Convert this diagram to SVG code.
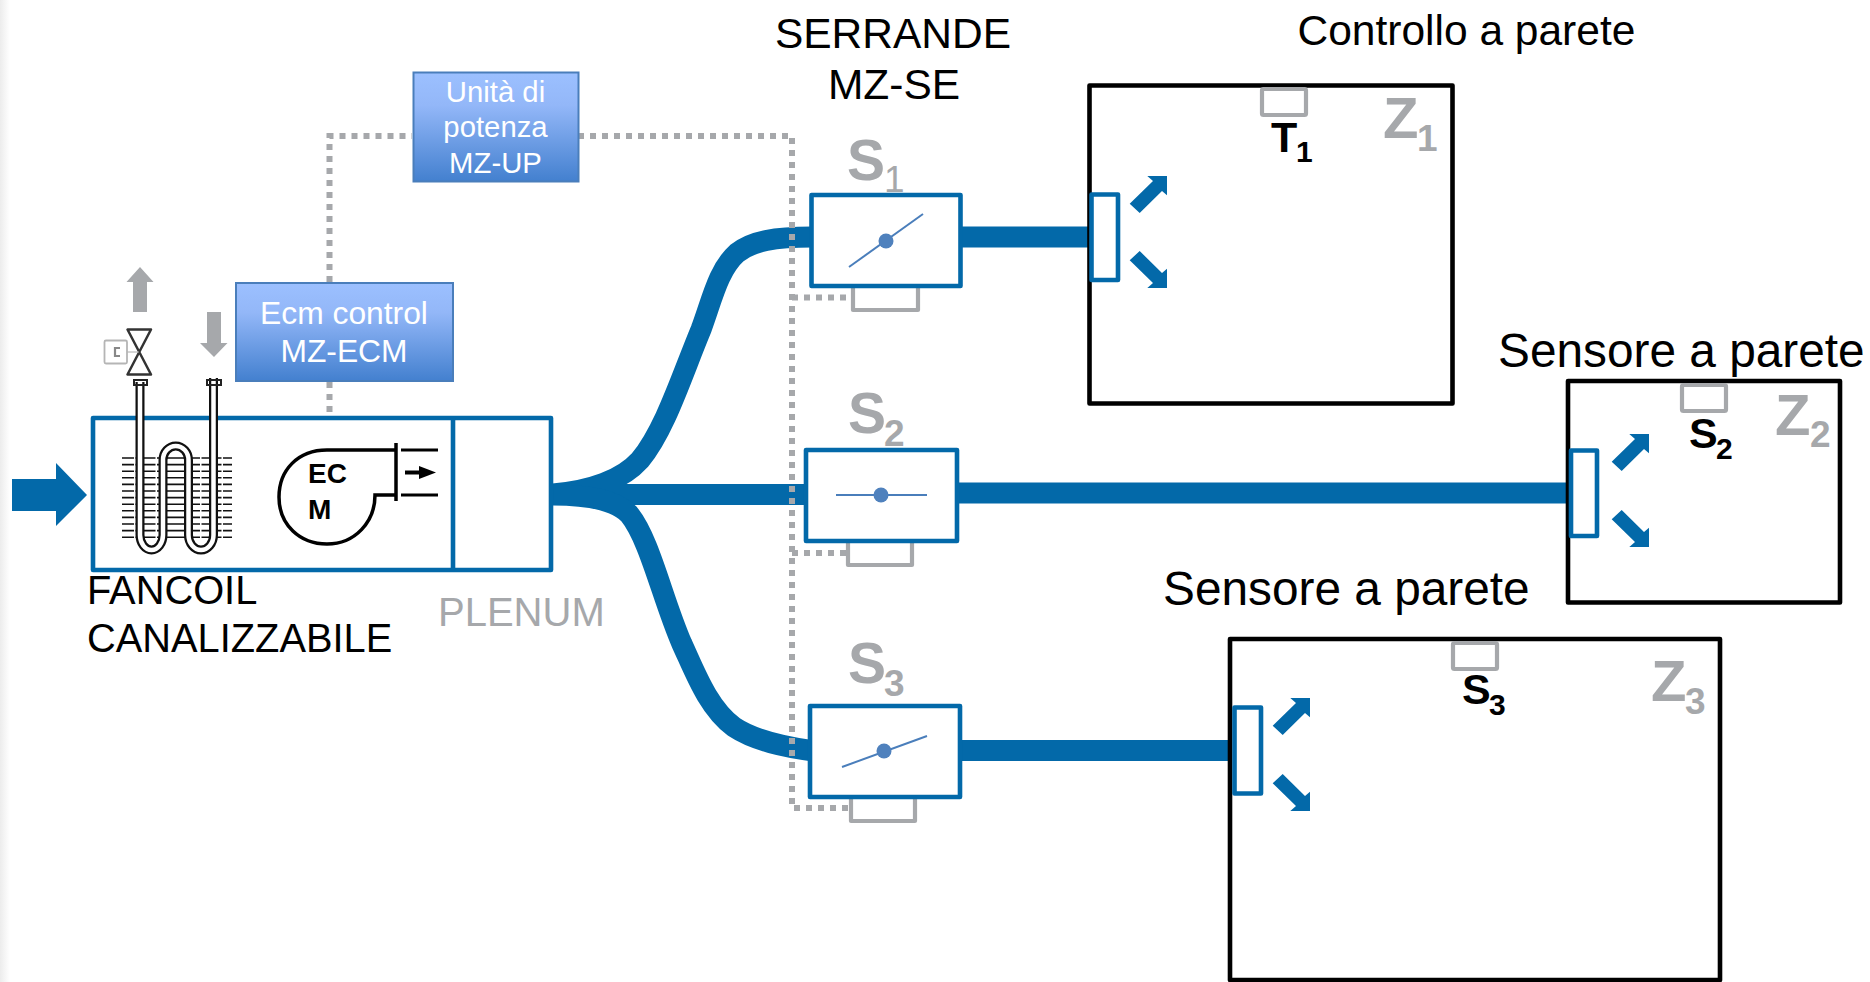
<svg xmlns="http://www.w3.org/2000/svg" width="1870" height="982" viewBox="0 0 1870 982">
<style>
text{font-family:"Liberation Sans",Arial,sans-serif}
.lbl{font-size:42.500px;fill:#000}
.fc{font-size:39.800px;fill:#000}
.par{font-size:47.800px;fill:#000}
.wh{fill:#fff;text-anchor:middle}
.gb{font-weight:bold;fill:#a6a8ab}
.kb{font-weight:bold;fill:#000}
.duct{fill:none;stroke:#0369a9;stroke-width:21}
.dot{fill:none;stroke:#a6a8ab;stroke-width:6;stroke-dasharray:6 6}
.box{fill:#fff;stroke:#0369a9;stroke-width:4.6;stroke-linejoin:round}
.zone{fill:#fff;stroke:#000;stroke-width:4.6;stroke-linejoin:round}
.sens{fill:#fff;stroke:#a6a8ab;stroke-width:4.2;stroke-linejoin:round}
.vane{stroke:#4a7ebb;stroke-width:2;fill:none}
.vd{fill:#4f81bd}
.ctl{fill:url(#btn);stroke:#4a7ebb;stroke-width:2}
.blk{fill:none;stroke:#000;stroke-width:3.500}
.fin{stroke:#111;stroke-width:1.6;stroke-dasharray:12 1.5 20 1.5 30 1}
</style>
<defs>
<linearGradient id="btn" x1="0" y1="0" x2="0" y2="1"><stop offset="0" stop-color="#9cc0ff"/><stop offset=".3" stop-color="#93b7f8"/><stop offset="1" stop-color="#4380cf"/></linearGradient>
<linearGradient id="edge" x1="0" y1="0" x2="1" y2="0"><stop offset="0" stop-color="#ececec"/><stop offset="1" stop-color="#fff"/></linearGradient>
<polygon id="outUp" fill="#0369a9" points="-37.3,27.7 -14,5 -19.7,0 0,0 0,19.3 -5,15 -27.3,37"/>
<polygon id="outDn" fill="#0369a9" points="-37.3,-27.7 -14,-5 -19.7,0 0,0 0,-19.3 -5,-15 -27.3,-37"/>
</defs>
<rect width="1870" height="982" fill="#fff"/>
<rect width="10" height="982" fill="url(#edge)"/>

<g id="connectors">
<path class="duct" d="M553 494 C590 491 622 480 640 460 C665 430 682 375 701 329.500 C712 300 718 270 737 253 C752 241 775 237 812 237"/>
<path class="duct" d="M551 494.500 H806"/>
<path class="duct" d="M553 495 C590 495 615 500 629 514 C650 540 662 598 682 644 C695 672 708 708 734 727 C755 741 785 747 814 751"/>
<path class="duct" d="M959 493 H1571"/>
<path class="duct" d="M962 750.500 H1234"/>
<path class="duct" d="M961 237 H1094"/>
<path class="dot" d="M329.500 282 V136 H412"/>
<path class="dot" d="M329.500 382 V450"/>
<path class="dot" d="M578 136 H792 V808 H848"/>
<path class="dot" d="M792 297.500 H853"/>
<path class="dot" d="M792 553 H848"/>
<polygon id="air-in" fill="#0369a9" points="12,479 56,479 56,463 87,495 56,526 56,511 12,511"/>
<polygon id="water-out" fill="#a6a8ab" points="140,267 153.500,282 147,282 147,312 133,312 133,282 126.500,282"/>
<polygon id="water-in" fill="#a6a8ab" points="214,357 227.500,343 221,343 221,312 207,312 207,343 200,343"/>
</g>

<g id="fancoil">
<rect class="box" x="93" y="418" width="458" height="152"/>
<path class="box" d="M453 418 V570"/>
<g id="coil">
<path class="fin" d="M122 458 H232 M122 464.600 H232 M122 471.200 H232 M122 477.800 H232 M122 484.400 H232 M122 491 H232 M122 497.600 H232 M122 504.200 H232 M122 510.800 H232 M122 517.400 H232 M122 524 H232 M122 530.600 H232 M122 537.200 H232"/>
<path fill="none" stroke="#111" stroke-width="9" d="M140 382 V535 A11.500 15 0 0 0 163 535 V460 A12.750 14 0 0 1 188.500 460 V535 A12.500 15 0 0 0 213.500 535 V378"/>
<path fill="none" stroke="#fff" stroke-width="4.500" d="M140 376 V535 A11.500 15 0 0 0 163 535 V460 A12.750 14 0 0 1 188.500 460 V535 A12.500 15 0 0 0 213.500 535 V376"/>
<path fill="none" stroke="#222" stroke-width="2" d="M134 380 H147 V385 H134 Z M207 380 H221 V385 H207 Z"/>
</g>
<g id="valve">
<path fill="none" stroke="#333" stroke-width="2.500" stroke-linejoin="round" d="M127.500 329.500 H151 L127.500 374.500 H151 Z"/>
<path fill="none" stroke="#aaa" d="M127 352 H139"/>
<rect x="104.500" y="340.500" width="22.500" height="23" rx="1.500" fill="#fff" stroke="#b5b5b5" stroke-width="1.800"/>
<path fill="none" stroke="#888" stroke-width="2.200" d="M120 348 H115 V356 H120"/>
</g>
<g id="fan">
<path class="blk" d="M396 450 H327 C298 450 279 470 279 497 C279 525 300 544 327 544 C355 544 375 522 375 495 H396"/>
<path d="M396 443 V501" stroke="#000" stroke-width="3.500"/>
<path d="M401 450 H438 M401 495 H438" stroke="#000" stroke-width="3"/>
<path d="M405 472.500 H422" stroke="#000" stroke-width="4"/>
<polygon points="419,466 436,472.500 419,479" fill="#000"/>
<text class="kb" x="308" y="483" font-size="28">EC</text>
<text class="kb" x="308" y="519" font-size="28">M</text>
</g>
<text class="fc" x="87" y="604">FANCOIL</text>
<text class="fc" x="87" y="652">CANALIZZABILE</text>
<text x="438" y="626" font-size="40" fill="#a6a8ab">PLENUM</text>
</g>

<g id="ecm-control">
<rect class="ctl" x="236" y="283" width="217" height="98"/>
<text class="wh" x="344" y="324" font-size="31.800">Ecm control</text>
<text class="wh" x="344" y="362" font-size="31.800">MZ-ECM</text>
</g>

<g id="power-unit">
<rect class="ctl" x="413.500" y="72.500" width="165" height="109"/>
<text class="wh" x="495.500" y="102" font-size="29.300">Unità di</text>
<text class="wh" x="495.500" y="137" font-size="29.300">potenza</text>
<text class="wh" x="495.500" y="173" font-size="29.300">MZ-UP</text>
</g>

<text id="serrande-1" class="lbl" x="893" y="48" text-anchor="middle">SERRANDE</text>
<text id="serrande-2" class="lbl" x="894" y="99" text-anchor="middle">MZ-SE</text>

<g id="damper-1">
<path class="sens" d="M853 287 V310 H918 V287"/>
<text class="gb" x="847" y="180" font-size="57">S</text>
<text class="gb" x="884" y="192" font-size="37" style="font-weight:normal">1</text>
<rect class="box" x="811.500" y="195" width="149" height="91"/>
<path class="vane" d="M849 267 L923 214"/>
<circle class="vd" cx="886" cy="241" r="7.500"/>
</g>
<g id="damper-2">
<path class="sens" d="M848 543 V565 H912 V543"/>
<text class="gb" x="848" y="433" font-size="57">S</text>
<text class="gb" x="884" y="446" font-size="37">2</text>
<rect class="box" x="806" y="450" width="151" height="91"/>
<path class="vane" d="M836 495 H927"/>
<circle class="vd" cx="881" cy="495" r="7.500"/>
</g>
<g id="damper-3">
<path class="sens" d="M851 799 V821 H915 V799"/>
<text class="gb" x="848" y="683" font-size="57">S</text>
<text class="gb" x="884" y="696" font-size="37">3</text>
<rect class="box" x="810" y="706" width="150" height="91"/>
<path class="vane" d="M842 767 L927 736"/>
<circle class="vd" cx="884" cy="751" r="7.500"/>
</g>

<g id="zone-1">
<rect class="zone" x="1089.500" y="85.500" width="363" height="318"/>
<rect class="sens" x="1262" y="89" width="44" height="26" rx="1.500"/>
<text class="kb" x="1271" y="152" font-size="43">T</text>
<text class="kb" x="1296" y="162" font-size="30">1</text>
<text class="gb" x="1383" y="138" font-size="58">Z</text>
<text class="gb" x="1417" y="151" font-size="37">1</text>
<rect class="box" x="1091.500" y="194.500" width="26.500" height="85.500"/>
<use href="#outUp" x="1167" y="176"/>
<use href="#outDn" x="1167" y="288"/>
</g>
<text id="label-1" x="1297.500" y="45" font-size="42.500" fill="#000">Controllo a parete</text>

<g id="zone-2">
<rect class="zone" x="1568" y="381" width="272" height="221.500"/>
<rect class="sens" x="1682" y="385" width="44" height="26" rx="1.500"/>
<text class="kb" x="1689" y="448" font-size="43">S</text>
<text class="kb" x="1716" y="459" font-size="30">2</text>
<text class="gb" x="1775" y="435" font-size="58">Z</text>
<text class="gb" x="1810" y="447" font-size="37">2</text>
<rect class="box" x="1571" y="450.500" width="26" height="85.500"/>
<use href="#outUp" x="1649" y="434"/>
<use href="#outDn" x="1649" y="547"/>
</g>
<text id="label-2" class="par" x="1498" y="367">Sensore a parete</text>

<g id="zone-3">
<rect class="zone" x="1230" y="639" width="490" height="341"/>
<rect class="sens" x="1453" y="643" width="44" height="26" rx="1.500"/>
<text class="kb" x="1462" y="704" font-size="43">S</text>
<text class="kb" x="1489" y="715" font-size="30">3</text>
<text class="gb" x="1651" y="701" font-size="58">Z</text>
<text class="gb" x="1685" y="714" font-size="37">3</text>
<rect class="box" x="1234.500" y="707.500" width="26.500" height="86"/>
<use href="#outUp" x="1310" y="698"/>
<use href="#outDn" x="1310" y="811"/>
</g>
<text id="label-3" class="par" x="1163" y="605">Sensore a parete</text>
</svg>
